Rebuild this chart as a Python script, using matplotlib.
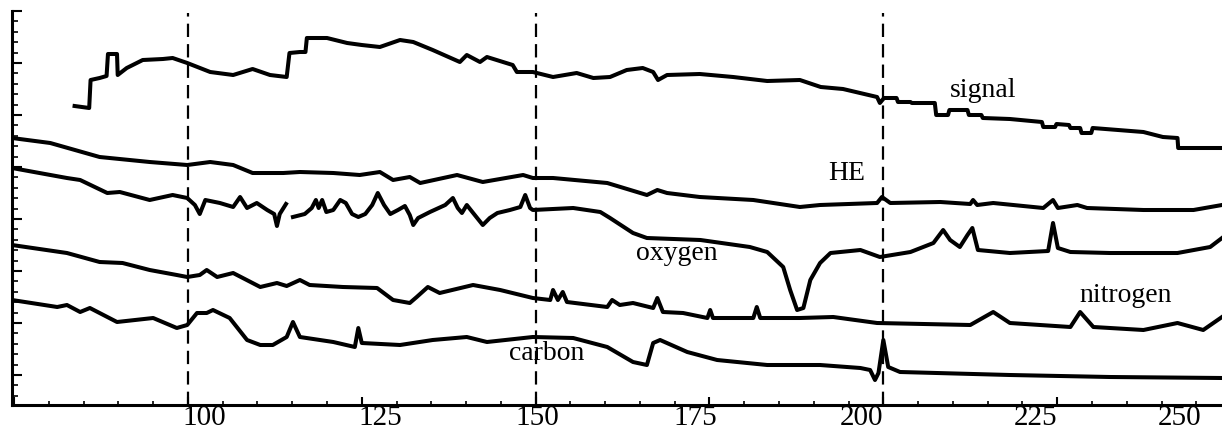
import matplotlib.pyplot as plt
import numpy as np

# x in label units, y in arbitrary intensity units (0 = bottom axis)
signal_x = [83.7, 85.8, 86.0, 87.3, 88.3, 88.5, 89.8, 89.9, 91.2, 93.5, 96.4, 97.8, 99.9,
            103.2, 106.5, 109.3, 111.8, 114.2, 114.6, 116.1, 116.9, 117.1, 120.0, 122.9,
            125.0, 127.6, 130.5, 132.4, 135.2, 139.1, 140.1, 142.0, 143.0, 146.7, 147.3,
            149.6, 152.5, 155.9, 158.3, 160.7, 163.1, 165.4, 166.9, 167.6, 168.9, 173.6,
            178.4, 183.3, 188.0, 191.0, 194.2, 199.1, 199.5, 200.1, 201.9, 202.1, 203.9,
            204.1, 207.4, 207.6, 209.3, 209.5, 212.1, 212.3, 214.1, 214.3, 218.2, 222.8,
            223.0, 224.7, 224.9, 226.7, 226.9, 228.3, 228.5, 229.9, 230.1, 237.4, 240.2,
            242.3, 242.4, 248.7]
signal_y = [299, 297, 325, 327, 329, 351, 351, 330, 337, 345, 346, 347, 342,
            333, 330, 336, 330, 328, 352, 353, 353, 367, 367, 362,
            360, 358, 365, 363, 355, 343, 350, 343, 348, 340, 333,
            333, 328, 332, 327, 328, 335, 337, 333, 325, 330, 331,
            328, 324, 325, 318, 316, 308, 302, 307, 307, 303, 303,
            302, 302, 290, 290, 295, 295, 290, 290, 287, 286, 283,
            278, 278, 281, 280, 277, 277, 272, 272, 277, 273, 268,
            267, 257, 257]

he_x = [74.7, 80.2, 87.3, 94.5, 99.9, 103.2, 106.5, 109.3, 113.7, 116.1, 120.9, 124.7,
        127.6, 129.5, 131.9, 133.4, 138.7, 142.4, 148.2, 149.6, 152.5, 160.3, 166.0,
        167.5, 168.9, 173.6, 181.3, 188.0, 190.9, 199.1, 199.8, 201.0, 208.2, 212.5,
        212.9, 213.5, 215.8, 223.0, 224.4, 225.1, 227.9, 229.3, 237.4, 244.6, 248.7]
he_y = [267, 262, 248, 243, 240, 243, 240, 232, 232, 233, 232, 230,
        233, 225, 228, 222, 230, 223, 230, 227, 227, 222, 210,
        215, 212, 208, 205, 198, 200, 202, 208, 202, 203, 201,
        205, 200, 202, 197, 205, 197, 200, 197, 195, 195, 200]

oxygen_x = [74.7, 82.6, 84.5, 88.4, 90.2, 94.5, 97.8, 99.9, 101.0, 101.7, 102.5, 104.6,
            106.5, 107.5, 108.5, 109.9, 111.4, 112.4, 112.8, 113.2, 114.1, np.nan,
            115.1, 116.8, 117.8, 118.4, 118.8, 119.3, 119.9, 120.9, 121.9, 122.7, 123.6,
            124.5, 125.5, 126.5, 127.3, 128.2, 129.1, 130.2, 131.2, 131.9, 132.4, 133.1,
            134.8, 137.0, 138.1, 138.8, 139.4, 140.1, 140.9, 142.4, 143.4, 144.5, 146.3,
            147.8, 148.5, 149.2, 149.6, 155.4, 159.3, 160.7, 164.0, 166.0, 173.7, 180.8,
            183.3, 185.6, 186.6, 187.6, 188.5, 189.5, 190.9, 192.4, 196.7, 199.5, 203.9,
            207.2, 208.6, 209.6, 211.0, 212.1, 212.8, 213.6, 218.2, 223.7, 224.4, 225.1,
            226.9, 232.6, 242.3, 247.0, 248.7]
oxygen_y = [237, 227, 225, 212, 213, 205, 210, 207, 200, 191, 205, 202,
            198, 208, 197, 202, 195, 191, 179, 191, 201, np.nan,
            188, 191, 197, 205, 197, 205, 193, 195, 205, 202, 191,
            188, 191, 200, 212, 200, 191, 195, 199, 190, 180, 187,
            193, 200, 207, 197, 192, 200, 193, 180, 187, 192, 195,
            198, 210, 197, 195, 197, 193, 187, 172, 167, 165, 158,
            153, 138, 115, 95, 97, 125, 142, 152, 155, 148, 153,
            162, 175, 165, 158, 170, 177, 155, 152, 154, 182, 157,
            153, 152, 152, 158, 167]

nitrogen_x = [74.7, 82.6, 87.3, 90.6, 94.5, 98.4, 99.9, 101.7, 102.7, 104.2, 106.5, 110.4,
              112.8, 114.2, 116.1, 117.5, 122.3, 127.2, 129.5, 131.9, 132.9, 134.5, 136.2,
              141.0, 144.9, 149.6, 152.1, 152.5, 153.2, 153.9, 154.5, 160.3, 161.0, 162.1,
              164.0, 166.9, 167.5, 168.3, 171.2, 174.7, 175.1, 175.5, 181.3, 181.8, 182.3,
              188.0, 192.8, 199.1, 212.5, 215.8, 218.2, 226.9, 228.3, 230.2, 237.4, 242.3,
              246.0, 248.7]
nitrogen_y = [160, 152, 143, 142, 135, 130, 128, 130, 135, 128, 132, 118,
              122, 119, 125, 120, 118, 117, 105, 102, 108, 118, 112,
              120, 115, 107, 105, 115, 105, 113, 103, 98, 105, 100,
              102, 97, 107, 93, 92, 87, 95, 87, 87, 98, 87,
              87, 88, 82, 80, 93, 82, 78, 93, 78, 75, 82,
              75, 88]

carbon_x = [74.7, 81.2, 82.6, 84.5, 85.9, 89.8, 95.0, 98.4, 99.9, 101.3, 102.7, 103.6,
            106.0, 108.5, 110.4, 112.2, 114.2, 115.1, 116.1, 120.9, 124.0, 124.5, 125.0,
            130.5, 135.2, 140.1, 143.0, 149.6, 155.4, 160.3, 164.0, 166.0, 166.9, 167.9,
            171.8, 176.1, 183.3, 190.9, 196.7, 198.1, 198.8, 199.3, 200.0, 200.7, 202.4,
            218.2, 232.6, 248.7]
carbon_y = [105, 98, 100, 93, 97, 83, 87, 77, 80, 92, 92, 95,
            87, 65, 60, 60, 68, 83, 68, 63, 58, 77, 62,
            60, 65, 68, 63, 68, 67, 58, 43, 40, 62, 65,
            53, 45, 40, 40, 37, 35, 25, 32, 65, 38, 33,
            30, 28, 27]

guide_x = [100, 150, 200]
tick_labels = ['100', '125', '150', '175', '200', '225', '250']
tick_label_x = [102.3, 127.7, 150.3, 172.9, 196.9, 221.9, 242.6]

names = ['signal', 'HE', 'oxygen', 'nitrogen', 'carbon']
name_x = [214.4, 194.8, 170.3, 234.9, 151.6]
name_y = [315, 232, 152, 110, 52]

fig = plt.figure(figsize=(12.22, 4.33), dpi=100)
ax = fig.add_axes([12 / 1222, 28 / 433, 1 - 12 / 1222, 394 / 433])

lw = 2.9
ax.plot(signal_x, signal_y, color='black', lw=lw)
ax.plot(he_x, he_y, color='black', lw=lw)
ax.plot(oxygen_x, oxygen_y, color='black', lw=lw)
ax.plot(nitrogen_x, nitrogen_y, color='black', lw=lw)
ax.plot(carbon_x, carbon_y, color='black', lw=lw)

for gx in guide_x:
    ax.axvline(gx, ymin=0, ymax=0.995, color='black', lw=1.6, dashes=(6, 3.2))

for name, nx, ny in zip(names, name_x, name_y):
    ax.text(nx, ny, name, ha='center', va='center', fontsize=20,
            family='Liberation Serif')

ax.set_xlim(74.7, 248.7)
ax.set_ylim(0, 394)

for side in ['top', 'right']:
    ax.spines[side].set_visible(False)
ax.spines['left'].set_linewidth(2.2)
ax.spines['bottom'].set_linewidth(2.2)

ax.set_xticks([75, 100, 125, 150, 175, 200, 225])
ax.set_xticklabels([])
ax.tick_params(axis='x', which='major', direction='in', length=6, width=1.5)
ax.set_xticks(np.arange(75, 250, 5), minor=True)
ax.tick_params(axis='x', which='minor', direction='in', length=3, width=1.2)

ax.set_yticks(np.arange(394, 0, -52))
ax.set_yticks(np.arange(394, 0, -10.4), minor=True)
ax.set_yticklabels([])
ax.tick_params(axis='y', which='major', direction='in', length=7, width=1.5)
ax.tick_params(axis='y', which='minor', direction='in', length=4, width=1.2)

sec = ax.secondary_xaxis('bottom')
sec.set_xticks(tick_label_x)
sec.set_xticklabels(tick_labels, family='Liberation Serif', fontsize=21)
sec.tick_params(length=0, pad=0)
sec.spines['bottom'].set_visible(False)

fig.savefig('out.png', dpi=100)
